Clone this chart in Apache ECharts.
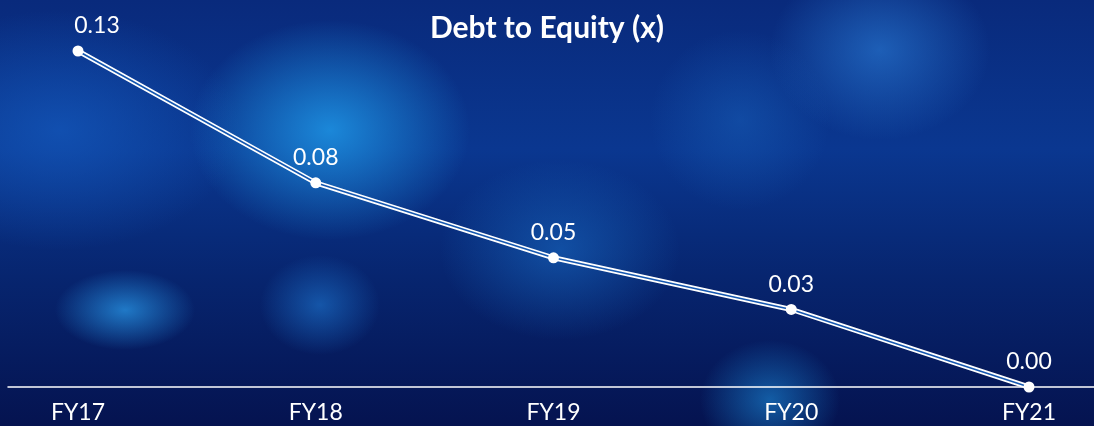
<!DOCTYPE html>
<html>
<head>
<meta charset="utf-8">
<script src="https://cdn.jsdelivr.net/npm/echarts@6/dist/echarts.min.js"></script>
<style>
  html, body { margin: 0; padding: 0; }
  #main {
    width: 1094px; height: 426px;
    background:
      radial-gradient(ellipse 70px 40px at 125px 310px, rgba(40,150,230,0.75), rgba(40,150,230,0) 100%),
      radial-gradient(ellipse 60px 50px at 320px 305px, rgba(30,120,210,0.6), rgba(30,120,210,0) 100%),
      radial-gradient(ellipse 140px 110px at 330px 130px, rgba(30,150,230,0.85), rgba(30,150,230,0) 100%),
      radial-gradient(ellipse 120px 90px at 560px 250px, rgba(25,110,200,0.55), rgba(25,110,200,0) 100%),
      radial-gradient(ellipse 110px 90px at 880px 50px, rgba(40,120,210,0.65), rgba(40,120,210,0) 100%),
      radial-gradient(ellipse 90px 90px at 740px 120px, rgba(25,100,190,0.45), rgba(25,100,190,0) 100%),
      radial-gradient(ellipse 70px 60px at 770px 400px, rgba(30,150,230,0.55), rgba(30,150,230,0) 100%),
      radial-gradient(ellipse 180px 120px at 60px 130px, rgba(20,90,190,0.7), rgba(20,90,190,0) 100%),
      linear-gradient(180deg, #092a7c 0%, #0a3790 35%, #07256f 65%, #051350 100%);
  }
</style>
</head>
<body>
<div id="main"></div>
<script>
var myChart = echarts.init(document.getElementById('main'));

var years = ['FY17', 'FY18', 'FY19', 'FY20', 'FY21'];
var debtToEquity = [0.13, 0.079, 0.05, 0.03, 0.00];

var font = 'Lato, "Open Sans", sans-serif';

var option = {
    backgroundColor: 'transparent',
    title: {
        text: 'Debt to Equity (x)',
        left: 'center',
        top: 8,
        textStyle: {
            color: '#ffffff',
            fontFamily: font,
            fontWeight: 'bold',
            fontSize: 30
        }
    },
    grid: [
        { left: 78, right: 65, top: 51, bottom: 39 },
        { left: 8, right: 0, top: 51, bottom: 39 }
    ],
    xAxis: [
        {
            type: 'category',
            data: years,
            boundaryGap: false,
            gridIndex: 0,
            axisLine: { show: false },
            axisTick: { show: false },
            axisLabel: {
                color: '#ffffff',
                fontFamily: font,
                fontSize: 23,
                margin: 14
            }
        },
        {
            type: 'value',
            gridIndex: 1,
            min: 0,
            max: 1,
            axisLine: { show: true, lineStyle: { color: '#ffffff', width: 1.5 } },
            axisTick: { show: false },
            axisLabel: { show: false },
            splitLine: { show: false }
        }
    ],
    yAxis: [
        {
            type: 'value',
            gridIndex: 0,
            min: 0,
            max: 0.13,
            show: false
        },
        {
            type: 'value',
            gridIndex: 1,
            min: 0,
            max: 1,
            show: false
        }
    ],
    series: [
        {
            type: 'line',
            data: debtToEquity,
            showSymbol: false,
            lineStyle: { color: '#ffffff', width: 5 },
            z: 2,
            silent: true
        },
        {
            type: 'line',
            data: debtToEquity,
            showSymbol: false,
            lineStyle: { color: '#1457b0', width: 1.6 },
            z: 3,
            silent: true
        },
        {
            type: 'line',
            data: debtToEquity,
            symbol: 'circle',
            symbolSize: 11,
            itemStyle: { color: '#ffffff' },
            lineStyle: { width: 0 },
            z: 4,
            label: {
                show: true,
                position: 'top',
                distance: 8,
                color: '#ffffff',
                fontFamily: font,
                fontWeight: 'normal',
                fontSize: 23,
                formatter: function (p) { return p.value.toFixed(2); }
            },
            labelLayout: function (params) {
                if (params.dataIndex === 0) {
                    return { dx: 19 };
                }
                return {};
            }
        }
    ]
};

myChart.setOption(option);
</script>
</body>
</html>
